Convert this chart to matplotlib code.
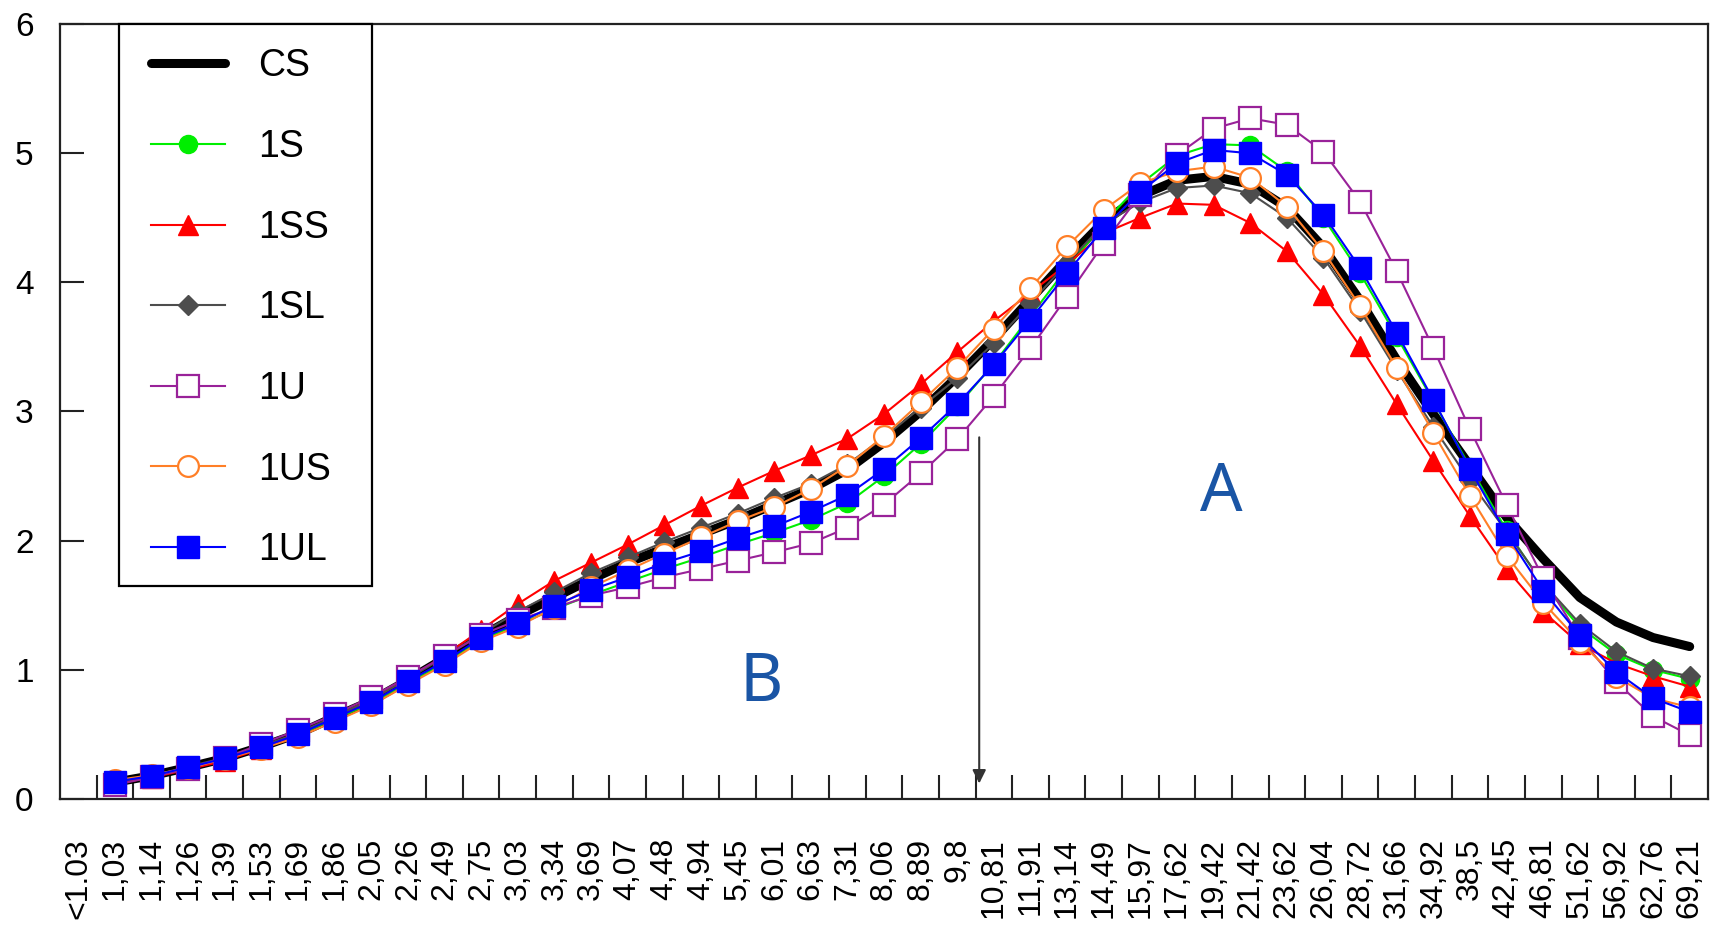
import matplotlib
matplotlib.use("Agg")
import matplotlib.pyplot as plt
from matplotlib.patches import Rectangle

categories = ["<1.03", "1,03", "1,14", "1,26", "1,39", "1,53", "1,69", "1,86", "2,05", "2,26",
              "2,49", "2,75", "3,03", "3,34", "3,69", "4,07", "4,48", "4,94", "5,45", "6,01",
              "6,63", "7,31", "8,06", "8,89", "9,8", "10,81", "11,91", "13,14", "14,49", "15,97",
              "17,62", "19,42", "21,42", "23,62", "26,04", "28,72", "31,66", "34,92", "38,5", "42,45",
              "46,81", "51,62", "56,92", "62,76", "69,21"]

# series values for categories "1,03" ... "69,21"
cs = [0.13, 0.18, 0.245, 0.315, 0.405, 0.505, 0.635, 0.76, 0.92, 1.09,
      1.26, 1.42, 1.56, 1.70, 1.83, 1.94, 2.05, 2.16, 2.28, 2.40,
      2.55, 2.76, 3.00, 3.27, 3.56, 3.87, 4.18, 4.47, 4.67, 4.79,
      4.82, 4.76, 4.58, 4.27, 3.86, 3.40, 2.98, 2.58, 2.18, 1.86,
      1.56, 1.37, 1.25, 1.18]
s_1s = [0.13, 0.175, 0.24, 0.31, 0.40, 0.495, 0.62, 0.74, 0.90, 1.05,
        1.23, 1.35, 1.47, 1.58, 1.68, 1.78, 1.87, 1.97, 2.06, 2.16,
        2.29, 2.50, 2.75, 3.04, 3.37, 3.74, 4.11, 4.46, 4.76, 4.98,
        5.07, 5.06, 4.86, 4.50, 4.07, 3.58, 3.08, 2.57, 2.08, 1.66,
        1.33, 1.12, 1.00, 0.93]
s_1ss = [0.12, 0.165, 0.23, 0.295, 0.39, 0.50, 0.635, 0.77, 0.935, 1.11,
         1.31, 1.51, 1.69, 1.83, 1.97, 2.12, 2.27, 2.41, 2.54, 2.66,
         2.79, 2.98, 3.21, 3.46, 3.70, 3.92, 4.14, 4.38, 4.50, 4.61,
         4.60, 4.46, 4.24, 3.905, 3.506, 3.056, 2.618, 2.19, 1.78, 1.45,
         1.20, 1.05, 0.95, 0.87]
s_1sl = [0.13, 0.18, 0.25, 0.32, 0.41, 0.51, 0.64, 0.77, 0.93, 1.10,
         1.28, 1.45, 1.60, 1.75, 1.87, 1.99, 2.10, 2.21, 2.33, 2.44,
         2.59, 2.80, 3.03, 3.26, 3.53, 3.84, 4.15, 4.45, 4.62, 4.73,
         4.75, 4.69, 4.50, 4.19, 3.78, 3.32, 2.88, 2.46, 2.07, 1.67,
         1.357, 1.14, 1.01, 0.95]
s_1u = [0.108, 0.17, 0.235, 0.32, 0.425, 0.535, 0.655, 0.79, 0.945, 1.105,
        1.27, 1.385, 1.48, 1.575, 1.64, 1.717, 1.78, 1.845, 1.91, 1.98,
        2.10, 2.28, 2.52, 2.785, 3.12, 3.49, 3.89, 4.30, 4.68, 4.986,
        5.19, 5.27, 5.22, 5.01, 4.625, 4.085, 3.49, 2.862, 2.278, 1.71,
        1.25, 0.906, 0.64, 0.494]
s_1us = [0.145, 0.185, 0.24, 0.31, 0.39, 0.48, 0.60, 0.725, 0.885, 1.04,
         1.22, 1.335, 1.48, 1.64, 1.77, 1.90, 2.025, 2.15, 2.26, 2.40,
         2.58, 2.81, 3.07, 3.338, 3.642, 3.956, 4.278, 4.561, 4.767, 4.86,
         4.896, 4.81, 4.587, 4.239, 3.815, 3.338, 2.836, 2.347, 1.884, 1.52,
         1.215, 0.944, 0.78, 0.71]
s_1ul = [0.134, 0.178, 0.245, 0.314, 0.40, 0.50, 0.627, 0.75, 0.911, 1.066,
         1.246, 1.36, 1.498, 1.619, 1.717, 1.828, 1.917, 2.018, 2.11, 2.224,
         2.353, 2.554, 2.793, 3.056, 3.364, 3.712, 4.072, 4.419, 4.703, 4.921,
         5.025, 4.999, 4.832, 4.523, 4.11, 3.609, 3.09, 2.554, 2.052, 1.614,
         1.266, 0.983, 0.78, 0.674]

y_ticks = [0, 1, 2, 3, 4, 5, 6]

W, H = 1725, 940
fig = plt.figure(figsize=(W / 100, H / 100), dpi=100)
ax = fig.add_axes([60 / W, 1 - 799 / H, (1708 - 60) / W, (799 - 24) / H])

x = list(range(1, len(categories)))

ax.plot(x, cs, color="black", lw=6.5, solid_capstyle="round", solid_joinstyle="round",
        label="CS", zorder=2)
ax.plot(x, s_1s, color="#00ee00", lw=1.5, marker="o", ms=13, mfc="#00ee00", mec="#00ee00",
        label="1S", zorder=3)
ax.plot(x, s_1ss, color="#ff0000", lw=1.5, marker="^", ms=14, mfc="#ff0000", mec="#ff0000",
        label="1SS", zorder=4)
ax.plot(x, s_1sl, color="#4d4d4d", lw=1.5, marker="D", ms=10, mfc="#4d4d4d", mec="#4d4d4d",
        label="1SL", zorder=5)
ax.plot(x, s_1u, color="#992299", lw=1.5, marker="s", ms=15.5, mfc="white", mec="#992299",
        mew=1.6, label="1U", zorder=6)
ax.plot(x, s_1us, color="#ff7f27", lw=1.5, marker="o", ms=15, mfc="white", mec="#ff7f27",
        mew=1.6, label="1US", zorder=7)
ax.plot(x, s_1ul, color="#0000ff", lw=1.5, marker="s", ms=16, mfc="#0000ff", mec="#0000ff",
        label="1UL", zorder=8)

ax.set_xlim(-0.5, len(categories) - 0.5)
ax.set_ylim(0, 6)

ax.set_xticks(range(len(categories)))
ax.set_xticklabels(categories, rotation=90, fontsize=23, family="Liberation Sans")
ax.tick_params(axis="x", which="major", length=0, pad=28)
ax.set_xticks([i + 0.5 for i in range(len(categories) - 1)], minor=True)
ax.tick_params(axis="x", which="minor", direction="in", length=17, width=1.5, color="#222222")

ax.set_yticks(y_ticks)
ax.set_yticklabels([str(v) for v in y_ticks], fontsize=24, family="Liberation Sans")
ax.tick_params(axis="y", direction="in", length=17, width=1.5, pad=19, color="#222222")

for sp in ax.spines.values():
    sp.set_linewidth(1.6)
    sp.set_color("#222222")

# legend frame drawn as a separate box so its size matches the reference
frame = Rectangle((119 / W, 1 - 586 / H), (372 - 119) / W, (586 - 24) / H,
                  transform=fig.transFigure, facecolor="white", edgecolor="black",
                  lw=1.6, zorder=15, clip_on=False)
ax.add_artist(frame)

leg = ax.legend(loc="upper left", bbox_to_anchor=(126.5 / W, 1 - 24 / H),
                bbox_transform=fig.transFigure, borderaxespad=0,
                prop={"family": "Liberation Sans", "size": 27},
                handlelength=1.97, handletextpad=0.9, labelspacing=1.19, borderpad=0.65,
                frameon=False)
leg.set_zorder(20)

ax.text(31.2, 2.37, "A", fontsize=48, color="#1a55a5", family="Noto Sans",
        ha="center", va="center")
ax.text(18.65, 0.90, "B", fontsize=48, color="#1a55a5", family="Noto Sans",
        ha="center", va="center")
ax.annotate("", xy=(24.6, 0.12), xytext=(24.6, 2.80),
            arrowprops=dict(arrowstyle="-|>", color="#333333", lw=1.5,
                            mutation_scale=20, shrinkA=0, shrinkB=0))

fig.savefig("out.png", dpi=100)
